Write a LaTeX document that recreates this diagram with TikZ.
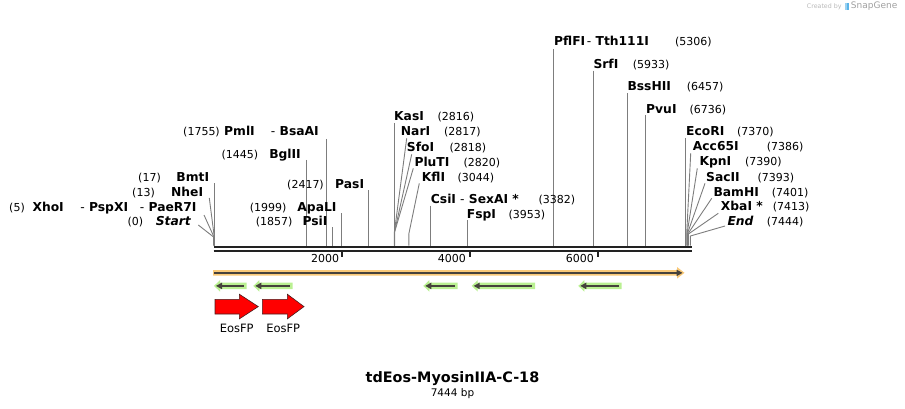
\documentclass[tikz,border=0pt]{standalone}
\usepackage{fontspec}
\setmainfont{DejaVu Sans}
\usetikzlibrary{arrows.meta}
\definecolor{bb}{RGB}{34,34,34}
\definecolor{cut}{RGB}{125,125,125}
\definecolor{orng}{RGB}{249,201,120}
\definecolor{grn}{RGB}{186,240,146}
\definecolor{inner}{RGB}{70,66,60}
\definecolor{redf}{RGB}{255,0,0}
\definecolor{redb}{RGB}{70,30,30}
\definecolor{sglight}{RGB}{185,185,185}
\definecolor{sgtext}{RGB}{160,160,160}
\definecolor{sgblue}{RGB}{90,180,232}
\begin{document}
\begin{tikzpicture}[x=1pt,y=-1pt,
  nm/.style={font=\fontsize{12.3}{14}\selectfont\bfseries, inner sep=0pt},
  nmi/.style={font=\fontsize{12.3}{14}\selectfont\bfseries\itshape, inner sep=0pt},
  num/.style={font=\fontsize{11}{12}\selectfont, inner sep=0pt},
  cutl/.style={draw=cut, line width=0.9pt},
  bbline/.style={draw=bb, line width=2.3pt},
  tickl/.style={draw=bb, line width=2pt},
  featlbl/.style={font=\fontsize{11.5}{13}\selectfont, inner sep=0pt}]
\useasboundingbox (0,0) rectangle (905,409);
\def\bt{245.7}
% backbone
\draw[bbline] (213.5,246.8) -- (691.5,246.8);
\draw[bbline] (213.5,251.1) -- (691.5,251.1);
% ticks
\draw[tickl] (342,252) -- (342,256.8);
\draw[tickl] (470,252) -- (470,256.8);
\draw[tickl] (598,252) -- (598,256.8);
\node[num, anchor=base east] (t2) at (339.3,262.5) {2000};
\node[num, anchor=base east] (t4) at (466,262.5) {4000};
\node[num, anchor=base east] (t6) at (594,262.5) {6000};
% cut lines left
\draw[cutl] (214.6,183) -- (214.6,\bt);
\draw[cutl] (209.3,198) -- (214.3,237) -- (214.3,\bt);
\draw[cutl] (204,215) -- (214,237) -- (214,\bt);
\draw[cutl] (198.3,225) -- (213.6,237) -- (213.6,\bt);
% middle verticals
\draw[cutl] (326.3,139) -- (326.3,\bt);
\draw[cutl] (306.5,160) -- (306.5,\bt);
\draw[cutl] (368.7,190) -- (368.7,\bt);
\draw[cutl] (341.9,213) -- (341.9,\bt);
\draw[cutl] (332.8,227) -- (332.8,\bt);
\draw[cutl] (394.2,123) -- (394.2,\bt);
\draw[cutl] (406.7,138.3) -- (394.4,232) -- (394.4,\bt);
\draw[cutl] (411.7,154.3) -- (394.5,232) -- (394.5,\bt);
\draw[cutl] (413.3,168.3) -- (394.6,232) -- (394.6,\bt);
\draw[cutl] (419.3,183.3) -- (408.8,234) -- (408.8,\bt);
\draw[cutl] (430.4,205.7) -- (430.4,\bt);
\draw[cutl] (467,220) -- (467,\bt);
\draw[cutl] (553.6,49.3) -- (553.6,\bt);
\draw[cutl] (593.7,70.7) -- (593.7,\bt);
\draw[cutl] (627.2,93.3) -- (627.2,\bt);
\draw[cutl] (645.4,115) -- (645.4,\bt);
\draw[cutl] (685.7,138.3) -- (685.7,\bt);
% right cluster
\draw[cutl] (690.7,153.3) -- (686.7,234) -- (686.7,\bt);
\draw[cutl] (697.3,168.3) -- (687,234) -- (687,\bt);
\draw[cutl] (705,183.3) -- (687.3,234) -- (687.3,\bt);
\draw[cutl] (711.7,198.3) -- (687.8,234) -- (687.8,\bt);
\draw[cutl] (718.3,213.3) -- (688.4,234) -- (688.4,\bt);
\draw[cutl] (725,226) -- (690.4,236) -- (690.4,\bt);
% left labels
\node[num, anchor=base east] (BmtIn) at (161,181) {(17)};
\node[nm, anchor=base east] (BmtI) at (209.3,181) {BmtI};
\node[num, anchor=base east] (NheIn) at (155,196) {(13)};
\node[nm, anchor=base east] (NheI) at (203.3,196) {NheI};
\node[num, anchor=base east] (XhoIn) at (25,211) {(5)};
\node[nm, anchor=base east] (XhoI) at (64,211) {XhoI};
\node[nm, anchor=base east] (PspXI) at (128.3,211) {{\mdseries -} PspXI};
\node[nm, anchor=base east] (PaeR7I) at (196.7,211) {{\mdseries -} PaeR7I};
\node[num, anchor=base east] (Startn) at (143.3,225.8) {(0)};
\node[nmi, anchor=base east] (Start) at (191,225.8) {Start};
\node[num, anchor=base east] (PmlIn) at (220,135.3) {(1755)};
\node[nm, anchor=base east] (PmlI) at (255,135.3) {PmlI};
\node[nm, anchor=base east] (BsaAI) at (319,135.3) {{\mdseries -} BsaAI};
\node[num, anchor=base east] (BglIIn) at (258.3,158.3) {(1445)};
\node[nm, anchor=base east] (BglII) at (301,158.3) {BglII};
\node[num, anchor=base east] (PasIn) at (324,188.3) {(2417)};
\node[nm, anchor=base east] (PasI) at (364.3,188.3) {PasI};
\node[num, anchor=base east] (ApaLIn) at (286.7,211) {(1999)};
\node[nm, anchor=base east] (ApaLI) at (336.7,211) {ApaLI};
\node[num, anchor=base east] (PsiIn) at (292.7,225.8) {(1857)};
\node[nm, anchor=base east] (PsiI) at (327.7,225.8) {PsiI};
% right labels
\node[nm, anchor=base west] (KasI) at (394,121) {KasI};
\node[num, anchor=base west] (KasIn) at (437.3,121) {(2816)};
\node[nm, anchor=base west] (NarI) at (400.7,136) {NarI};
\node[num, anchor=base west] (NarIn) at (444,136) {(2817)};
\node[nm, anchor=base west] (SfoI) at (406.7,151.5) {SfoI};
\node[num, anchor=base west] (SfoIn) at (449.3,151.5) {(2818)};
\node[nm, anchor=base west] (PluTI) at (414.3,166.4) {PluTI};
\node[num, anchor=base west] (PluTIn) at (463.3,166.4) {(2820)};
\node[nm, anchor=base west] (KflI) at (421.7,181) {KflI};
\node[num, anchor=base west] (KflIn) at (457.3,181) {(3044)};
\node[nm, anchor=base west] (CsiI) at (430.7,203.3) {CsiI};
\node[nm, anchor=base west] (SexAI) at (460,203.3) {{\mdseries -} SexAI *};
\node[num, anchor=base west] (CsiIn) at (538.3,203.3) {(3382)};
\node[nm, anchor=base west] (FspI) at (466.7,218.6) {FspI};
\node[num, anchor=base west] (FspIn) at (508.3,218.6) {(3953)};
\node[nm, anchor=base west] (PflFI) at (554,46) {PflFI};
\node[nm, anchor=base west] (Tth) at (586.7,46) {{\mdseries -} Tth111I};
\node[num, anchor=base west] (PflFIn) at (675,46) {(5306)};
\node[nm, anchor=base west] (SrfI) at (593.3,68.6) {SrfI};
\node[num, anchor=base west] (SrfIn) at (632.7,68.6) {(5933)};
\node[nm, anchor=base west] (BssHII) at (627.3,91) {BssHII};
\node[num, anchor=base west] (BssHIIn) at (686.7,91) {(6457)};
\node[nm, anchor=base west] (PvuI) at (646,113.6) {PvuI};
\node[num, anchor=base west] (PvuIn) at (689.3,113.6) {(6736)};
\node[nm, anchor=base west] (EcoRI) at (686,136) {EcoRI};
\node[num, anchor=base west] (EcoRIn) at (737,136) {(7370)};
\node[nm, anchor=base west] (Acc65I) at (692.7,151) {Acc65I};
\node[num, anchor=base west] (Acc65In) at (766.7,151) {(7386)};
\node[nm, anchor=base west] (KpnI) at (699.3,166) {KpnI};
\node[num, anchor=base west] (KpnIn) at (745,166) {(7390)};
\node[nm, anchor=base west] (SacII) at (706,181) {SacII};
\node[num, anchor=base west] (SacIIn) at (757.3,181) {(7393)};
\node[nm, anchor=base west] (BamHI) at (713.3,196) {BamHI};
\node[num, anchor=base west] (BamHIn) at (771.7,196) {(7401)};
\node[nm, anchor=base west] (XbaI) at (720.7,210.6) {XbaI *};
\node[num, anchor=base west] (XbaIn) at (772.7,210.6) {(7413)};
\node[nmi, anchor=base west] (End) at (727.3,225.5) {End};
\node[num, anchor=base west] (Endn) at (766.7,225.5) {(7444)};
% orange feature
\fill[orng] (213,270) -- (677,270) -- (677,267) -- (684.5,272.8) -- (677,278.6) -- (677,275.6) -- (213,275.6) -- cycle;
\draw[inner, line width=1.8pt] (214,272.9) -- (678,272.9);
\fill[inner] (676.5,269.6) -- (682.5,272.9) -- (676.5,276.2) -- cycle;
% green features
\foreach \a/\b in {214/246.7, 253.3/292.7, 423.3/457.7, 471.7/535, 578.3/621.7} {
  \fill[grn] ({\a+6},282.7) -- (\b,282.7) -- (\b,289.1) -- ({\a+6},289.1) -- ({\a+6},291.6) -- (\a,285.9) -- ({\a+6},280.2) -- cycle;
  \draw[inner, line width=1.8pt] ({\a+5},285.9) -- ({\b-3},285.9);
  \fill[inner] ({\a+2},285.9) -- ({\a+8},282.6) -- ({\a+8},289.2) -- cycle;
}
% EosFP arrows
\draw[draw=redb, fill=redf, line width=0.6pt] (215,299.3) -- (239.3,299.3) -- (239.3,294.2) -- (258.3,306.6) -- (239.3,318.9) -- (239.3,314) -- (215,314) -- cycle;
\draw[draw=redb, fill=redf, line width=0.6pt] (262.3,299.3) -- (287.3,299.3) -- (287.3,294.2) -- (304,306.6) -- (287.3,318.9) -- (287.3,314) -- (262.3,314) -- cycle;
\node[featlbl] (eos1) at (236.7,328.3) {EosFP};
\node[featlbl] (eos2) at (283.2,328.3) {EosFP};
% title
\node[font=\fontsize{14.4}{16}\selectfont\bfseries, inner sep=0pt] (title) at (452.5,378.3) {tdEos-MyosinIIA-C-18};
\node[font=\fontsize{10.5}{12}\selectfont, inner sep=0pt] (len) at (452.5,393.3) {7444 bp};
% SnapGene credit
\node[font=\fontsize{6.3}{7}\selectfont, text=sglight, inner sep=0pt, anchor=west] (cby) at (806.7,6.3) {Created by};
\fill[sgblue] (845,3) rectangle (849.3,10.2);
\fill[sgblue!60!white] (845,3) rectangle (846.6,10.2);
\node[font=\fontsize{9}{10}\selectfont, text=sgtext, inner sep=0pt, anchor=west] (sg) at (850.7,6.3) {SnapGene};
\end{tikzpicture}
\end{document}
